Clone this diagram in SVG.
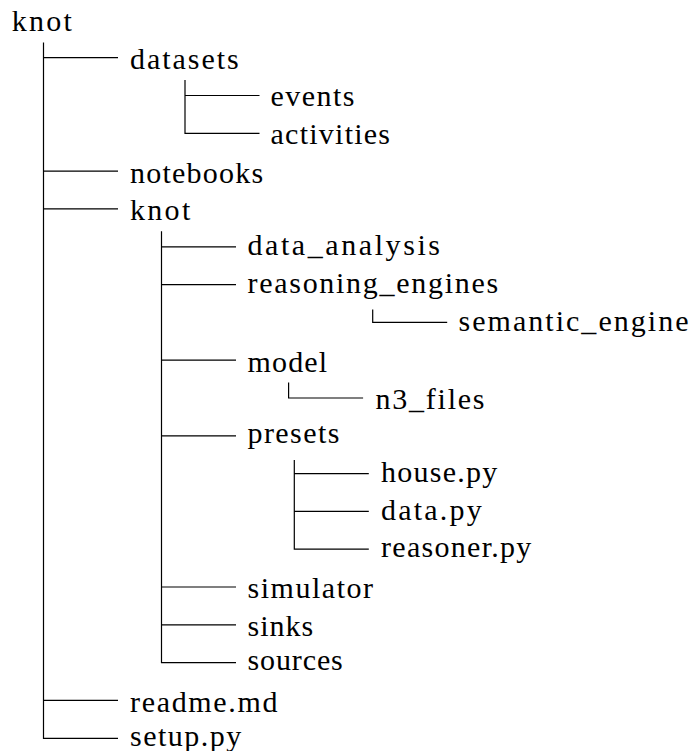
<svg xmlns="http://www.w3.org/2000/svg" width="691" height="751" viewBox="0 0 691 751">
  <style>
    .lbl { font-family: 'Liberation Serif', serif; font-size: 30px; fill: #000; }
    .edge { fill: none; stroke: #000; stroke-width: 1.2; }
  </style>
  <rect width="691" height="751" fill="#fff"/>
  <g id="connectors">
    <path class="edge" d="M43.5 42.5 V738.3 H118"/>
    <path class="edge" d="M43.5 57.7 H118 M43.5 171.1 H118 M43.5 208.9 H118 M43.5 700.4 H118"/>
    <path class="edge" d="M185 80.1 V133.3 H259.5 M185 95.5 H259.5"/>
    <path class="edge" d="M161.5 231.3 V662.6 H236 M161.5 246.8 H236 M161.5 284.6 H236 M161.5 360.2 H236 M161.5 435.8 H236 M161.5 587 H236 M161.5 624.8 H236"/>
    <path class="edge" d="M372.7 309.5 V322.4 H447.2"/>
    <path class="edge" d="M288.6 382.6 V398 H363.1"/>
    <path class="edge" d="M294.3 460 V549.2 H368.8 M294.3 473.6 H368.8 M294.3 511.4 H368.8"/>
  </g>
  <g id="n-root"><text class="lbl" x="11.7" y="31.3" letter-spacing="2.3">knot</text></g>
  <g id="n-datasets"><text class="lbl" x="130" y="69.1" letter-spacing="1.97">datasets</text></g>
  <g id="n-events"><text class="lbl" x="270.5" y="105.7" letter-spacing="1.46">events</text></g>
  <g id="n-activities"><text class="lbl" x="270.5" y="144.3" letter-spacing="1.25">activities</text></g>
  <g id="n-notebooks"><text class="lbl" x="130" y="182.5" letter-spacing="1.24">notebooks</text></g>
  <g id="n-knot"><text class="lbl" x="130" y="220.3" letter-spacing="2.3">knot</text></g>
  <g id="n-data_analysis"><text class="lbl" x="247.5" y="255.3" letter-spacing="2.57">data_analysis</text></g>
  <g id="n-reasoning_engines"><text class="lbl" x="247.5" y="292.7" letter-spacing="1.71">reasoning_engines</text></g>
  <g id="n-semantic_engine"><text class="lbl" x="458.5" y="330.5" letter-spacing="2.03">semantic_engine</text></g>
  <g id="n-model"><text class="lbl" x="247.5" y="371.6" letter-spacing="1.15">model</text></g>
  <g id="n-n3_files"><text class="lbl" x="375.5" y="408.8" letter-spacing="1.76">n3_files</text></g>
  <g id="n-presets"><text class="lbl" x="247.5" y="443" letter-spacing="1.43">presets</text></g>
  <g id="n-house"><text class="lbl" x="381" y="482" letter-spacing="1.24">house.py</text></g>
  <g id="n-data"><text class="lbl" x="381" y="519.9" letter-spacing="2.2">data.py</text></g>
  <g id="n-reasoner"><text class="lbl" x="381" y="556.5" letter-spacing="1.29">reasoner.py</text></g>
  <g id="n-simulator"><text class="lbl" x="247.5" y="598.4" letter-spacing="1.53">simulator</text></g>
  <g id="n-sinks"><text class="lbl" x="247.5" y="636.2" letter-spacing="0.98">sinks</text></g>
  <g id="n-sources"><text class="lbl" x="247.5" y="670" letter-spacing="0.88">sources</text></g>
  <g id="n-readme"><text class="lbl" x="130" y="711.8" letter-spacing="1.67">readme.md</text></g>
  <g id="n-setup"><text class="lbl" x="130" y="745.5" letter-spacing="1.5">setup.py</text></g>
</svg>
